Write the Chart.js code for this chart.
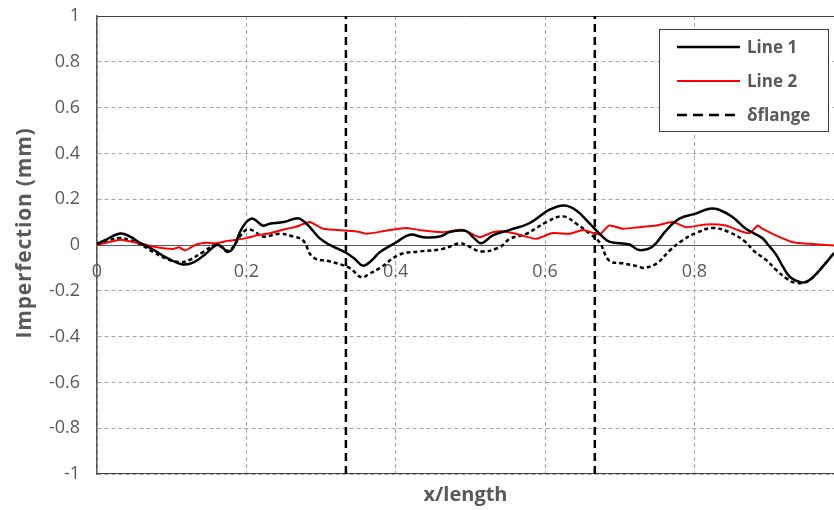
<!DOCTYPE html>
<html><head><meta charset="utf-8">
<script src="https://cdn.jsdelivr.net/npm/chart.js@4"></script>
<style>html,body{margin:0;padding:0;background:#fff;}canvas{display:block}</style>
</head><body>
<canvas id="c" width="834" height="510"></canvas>
<script>
// ---- data ----
const seriesNames = ['Line 1', 'Line 2', 'δflange'];
const yAxisTitle = 'Imperfection (mm)';
const xAxisTitle = 'x/length';
const xTickValues = [0, 0.2, 0.4, 0.6, 0.8];
const xMax = 0.987;
const flangeBounds = [1/3, 2/3];

const line1X = [0.0,0.01,0.031,0.045,0.057,0.075,0.093,0.115,0.13,0.145,0.16,0.168,0.174,0.182,0.192,0.2,0.209,0.222,0.231,0.25,0.269,0.278,0.285,0.298,0.312,0.334,0.345,0.356,0.367,0.379,0.401,0.419,0.437,0.459,0.472,0.486,0.495,0.505,0.515,0.53,0.553,0.579,0.606,0.626,0.642,0.66,0.673,0.686,0.713,0.726,0.744,0.762,0.78,0.802,0.82,0.833,0.851,0.869,0.891,0.899,0.909,0.919,0.928,0.942,0.95,0.959,0.973,0.987];
const line1Y = [0.005,0.02,0.05,0.035,0.01,-0.02,-0.055,-0.085,-0.075,-0.04,0.0,-0.01,-0.03,-0.015,0.06,0.1,0.115,0.085,0.093,0.1,0.117,0.1,0.078,0.03,0.0,-0.035,-0.06,-0.09,-0.07,-0.031,0.012,0.045,0.034,0.037,0.056,0.063,0.06,0.03,0.008,0.042,0.066,0.095,0.154,0.173,0.151,0.093,0.049,0.015,0.002,-0.022,-0.007,0.063,0.115,0.137,0.158,0.154,0.122,0.071,0.03,0.0,-0.04,-0.097,-0.14,-0.163,-0.16,-0.14,-0.09,-0.035];

const line2X = [0.0,0.015,0.031,0.045,0.057,0.08,0.102,0.11,0.118,0.125,0.133,0.145,0.16,0.175,0.187,0.2,0.214,0.23,0.245,0.254,0.265,0.275,0.285,0.303,0.334,0.35,0.361,0.388,0.414,0.437,0.463,0.49,0.512,0.53,0.544,0.561,0.588,0.61,0.633,0.651,0.673,0.686,0.704,0.726,0.749,0.771,0.789,0.816,0.842,0.86,0.874,0.885,0.891,0.909,0.932,0.954,0.987];
const line2Y = [0.0,0.012,0.023,0.015,0.008,-0.01,-0.017,-0.01,-0.024,-0.012,0.002,0.01,0.008,0.018,0.023,0.03,0.042,0.05,0.063,0.071,0.078,0.09,0.1,0.071,0.063,0.058,0.049,0.063,0.074,0.063,0.056,0.066,0.034,0.056,0.06,0.049,0.027,0.052,0.049,0.066,0.046,0.085,0.071,0.078,0.085,0.1,0.078,0.09,0.085,0.063,0.052,0.085,0.071,0.042,0.012,0.005,-0.002];

const flangeX = [0.0,0.015,0.031,0.045,0.057,0.075,0.093,0.111,0.124,0.142,0.16,0.174,0.182,0.192,0.2,0.209,0.222,0.245,0.263,0.276,0.289,0.312,0.338,0.354,0.365,0.379,0.405,0.432,0.463,0.486,0.495,0.515,0.539,0.553,0.575,0.602,0.624,0.642,0.66,0.673,0.686,0.704,0.726,0.731,0.749,0.767,0.784,0.802,0.824,0.847,0.869,0.879,0.897,0.91,0.924,0.935,0.95,0.959,0.973,0.987];
const flangeY = [0.005,0.02,0.031,0.02,0.005,-0.03,-0.06,-0.075,-0.065,-0.031,0.001,-0.024,-0.01,0.04,0.066,0.063,0.037,0.049,0.037,0.02,-0.053,-0.072,-0.1,-0.141,-0.125,-0.1,-0.042,-0.028,-0.017,0.008,-0.002,-0.028,-0.01,0.027,0.049,0.1,0.125,0.093,0.049,0.012,-0.068,-0.08,-0.094,-0.1,-0.082,-0.024,0.02,0.052,0.074,0.056,0.012,-0.024,-0.068,-0.11,-0.148,-0.165,-0.162,-0.14,-0.09,-0.035];

function pts(xs, ys) { return xs.map((x, i) => ({x: x, y: ys[i]})); }

const FONT = "'Open Sans', 'Liberation Sans', sans-serif";
Chart.defaults.font.family = FONT;
const GRAY = '#595959';
const GRID = '#a6a6a6';

const frame = {
  id: 'frame',
  beforeDatasetsDraw(chart) {
    const {ctx, chartArea: a} = chart;
    ctx.save();
    ctx.strokeStyle = '#404040';
    ctx.lineWidth = 1;
    ctx.beginPath();
    ctx.moveTo(a.left, Math.round(a.top) + 0.5); ctx.lineTo(a.right, Math.round(a.top) + 0.5);
    ctx.moveTo(a.left, Math.round(a.bottom) - 0.5); ctx.lineTo(a.right, Math.round(a.bottom) - 0.5);
    ctx.stroke();
    ctx.restore();
  },
  afterDraw(chart) {
    const {ctx, chartArea: a} = chart;
    ctx.save();
    ctx.translate(25, (a.top + a.bottom) / 2 - 12);
    ctx.rotate(-Math.PI / 2);
    ctx.fillStyle = GRAY;
    ctx.font = 'bold 21px ' + FONT;
    if ('letterSpacing' in ctx) ctx.letterSpacing = '0.8px';
    ctx.textAlign = 'center';
    ctx.textBaseline = 'middle';
    ctx.fillText(yAxisTitle, 0, 0);
    ctx.restore();
  }
};

const boxLegend = {
  id: 'boxLegend',
  afterDraw(chart) {
    const {ctx, chartArea: a} = chart;
    const items = chart.data.datasets.filter(d => !d.isBound);
    const w = 169, h = 102;
    const x0 = Math.round(a.right - 6 - w), y0 = Math.round(a.top + 13);
    ctx.save();
    ctx.fillStyle = '#fff';
    ctx.fillRect(x0, y0, w, h);
    ctx.strokeStyle = '#404040';
    ctx.lineWidth = 1;
    ctx.strokeRect(x0 + 0.5, y0 + 0.5, w, h);
    items.forEach((d, i) => {
      const y = y0 + 18 + i * 34;
      ctx.beginPath();
      ctx.strokeStyle = d.borderColor;
      ctx.lineWidth = d.borderWidth;
      ctx.setLineDash(d.borderDash ? [10, 6] : []);
      ctx.moveTo(x0 + 18, y); ctx.lineTo(x0 + 81, y);
      ctx.stroke();
      ctx.setLineDash([]);
      ctx.fillStyle = GRAY;
      ctx.font = 'bold 17px ' + FONT;
      ctx.textBaseline = 'middle';
      ctx.textAlign = 'left';
      ctx.fillText(d.label, x0 + 88, y + 1);
    });
    ctx.restore();
  }
};

const datasets = [
  {label: seriesNames[0], data: pts(line1X, line1Y), borderColor: '#000000', borderWidth: 2.5, pointRadius: 0, tension: 0.4},
  {label: seriesNames[1], data: pts(line2X, line2Y), borderColor: '#ff0000', borderWidth: 2, pointRadius: 0, tension: 0.2},
  {label: seriesNames[2], data: pts(flangeX, flangeY), borderColor: '#000000', borderWidth: 2.5, borderDash: [4, 3], pointRadius: 0, tension: 0.4}
].concat(flangeBounds.map(b => ({
  label: '', isBound: true, data: [{x: b, y: -1}, {x: b, y: 1}],
  borderColor: '#000000', borderWidth: 2.5, borderDash: [8, 5], pointRadius: 0
})));

new Chart(document.getElementById('c'), {
  type: 'line',
  data: {datasets: datasets},
  plugins: [frame, boxLegend],
  options: {
    responsive: false,
    animation: false,
    devicePixelRatio: 1,
    layout: {padding: {top: 16, right: 0, left: 0, bottom: 0}},
    plugins: {
      legend: {display: false},
      tooltip: {enabled: false},
      title: {
        display: true, text: xAxisTitle, position: 'bottom', fullSize: false,
        color: GRAY, font: {size: 20, weight: 'bold'}, padding: {top: 9, bottom: 3}
      }
    },
    scales: {
      x: {
        type: 'linear', min: 0, max: xMax, position: 'bottom',
        afterBuildTicks: s => { s.ticks = xTickValues.map(v => ({value: v})); },
        afterFit: s => { s.height = 0; s.paddingLeft = 0; s.paddingRight = 0; },
        grid: {color: GRID, lineWidth: 1, drawTicks: false},
        border: {display: true, color: 'rgba(0,0,0,0)', width: 1, dash: [4, 3]},
        ticks: {mirror: true, color: GRAY, font: {size: 18}, padding: 191, maxRotation: 0, callback: v => String(+(+v).toFixed(1))}
      },
      y: {
        type: 'linear', min: -1, max: 1,
        afterFit: s => { s.width = 97; s.paddingTop = 0; s.paddingBottom = 0; },
        grid: {
          color: c => (c.tick && c.tick.value === 0) ? GRAY : GRID,
          lineWidth: 1, drawTicks: false
        },
        border: {display: true, color: GRAY, width: 1.5, dash: c => (c.tick && c.tick.value === 0) ? [] : [4, 3]},
        ticks: {stepSize: 0.2, color: GRAY, font: {size: 18}, padding: 17, callback: v => String(+(+v).toFixed(1))},
        title: {display: false}
      }
    }
  }
});
</script>
</body></html>
